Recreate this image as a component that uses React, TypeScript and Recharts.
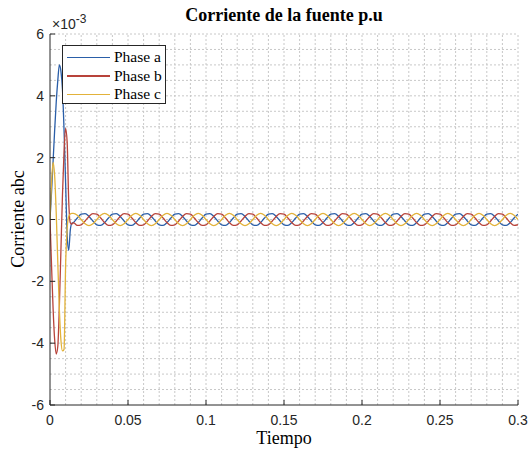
import { LineChart, Line, XAxis, YAxis, ReferenceLine } from 'recharts'

// tiempo (s); muestreo fino en el transitorio, luego 8 muestras por ciclo de 50 Hz
const TIEMPO = [
  0, 0.001, 0.002, 0.003, 0.004, 0.005, 0.006, 0.007, 0.008, 0.009, 0.01, 0.011, 0.012, 0.013, 0.014,
  0.015, 0.0175, 0.02, 0.0225, 0.025, 0.0275, 0.03, 0.0325,
  0.035, 0.0375, 0.04, 0.0425, 0.045, 0.0475, 0.05, 0.0525,
  0.055, 0.0575, 0.06, 0.0625, 0.065, 0.0675, 0.07, 0.0725,
  0.075, 0.0775, 0.08, 0.0825, 0.085, 0.0875, 0.09, 0.0925,
  0.095, 0.0975, 0.1, 0.1025, 0.105, 0.1075, 0.11, 0.1125,
  0.115, 0.1175, 0.12, 0.1225, 0.125, 0.1275, 0.13, 0.1325,
  0.135, 0.1375, 0.14, 0.1425, 0.145, 0.1475, 0.15, 0.1525,
  0.155, 0.1575, 0.16, 0.1625, 0.165, 0.1675, 0.17, 0.1725,
  0.175, 0.1775, 0.18, 0.1825, 0.185, 0.1875, 0.19, 0.1925,
  0.195, 0.1975, 0.2, 0.2025, 0.205, 0.2075, 0.21, 0.2125,
  0.215, 0.2175, 0.22, 0.2225, 0.225, 0.2275, 0.23, 0.2325,
  0.235, 0.2375, 0.24, 0.2425, 0.245, 0.2475, 0.25, 0.2525,
  0.255, 0.2575, 0.26, 0.2625, 0.265, 0.2675, 0.27, 0.2725,
  0.275, 0.2775, 0.28, 0.2825, 0.285, 0.2875, 0.29, 0.2925,
  0.295, 0.2975, 0.3,
]

// corrientes en unidades de 1e-3
const PHASE_A = [
  0, 0.9, 1.9, 2.9, 3.8, 4.5, 5.0, 4.8, 4.2, 2.9, 1.2, -0.5, -1.0, -0.35, -0.12,
  -0.1, 0.05, 0.17, 0.19, 0.1, -0.05, -0.17, -0.19,
  -0.1, 0.05, 0.17, 0.19, 0.1, -0.05, -0.17, -0.19,
  -0.1, 0.05, 0.17, 0.19, 0.1, -0.05, -0.17, -0.19,
  -0.1, 0.05, 0.17, 0.19, 0.1, -0.05, -0.17, -0.19,
  -0.1, 0.05, 0.17, 0.19, 0.1, -0.05, -0.17, -0.19,
  -0.1, 0.05, 0.17, 0.19, 0.1, -0.05, -0.17, -0.19,
  -0.1, 0.05, 0.17, 0.19, 0.1, -0.05, -0.17, -0.19,
  -0.1, 0.05, 0.17, 0.19, 0.1, -0.05, -0.17, -0.19,
  -0.1, 0.05, 0.17, 0.19, 0.1, -0.05, -0.17, -0.19,
  -0.1, 0.05, 0.17, 0.19, 0.1, -0.05, -0.17, -0.19,
  -0.1, 0.05, 0.17, 0.19, 0.1, -0.05, -0.17, -0.19,
  -0.1, 0.05, 0.17, 0.19, 0.1, -0.05, -0.17, -0.19,
  -0.1, 0.05, 0.17, 0.19, 0.1, -0.05, -0.17, -0.19,
  -0.1, 0.05, 0.17, 0.19, 0.1, -0.05, -0.17, -0.19,
  -0.1, 0.05, 0.17,
]

const PHASE_B = [
  0, -1.5, -2.9, -3.9, -4.35, -4.1, -2.8, -1.0, 0.8, 2.2, 2.95, 2.5, 0.6, -0.1, -0.15,
  -0.1, -0.19, -0.17, -0.05, 0.1, 0.19, 0.17, 0.05,
  -0.1, -0.19, -0.17, -0.05, 0.1, 0.19, 0.17, 0.05,
  -0.1, -0.19, -0.17, -0.05, 0.1, 0.19, 0.17, 0.05,
  -0.1, -0.19, -0.17, -0.05, 0.1, 0.19, 0.17, 0.05,
  -0.1, -0.19, -0.17, -0.05, 0.1, 0.19, 0.17, 0.05,
  -0.1, -0.19, -0.17, -0.05, 0.1, 0.19, 0.17, 0.05,
  -0.1, -0.19, -0.17, -0.05, 0.1, 0.19, 0.17, 0.05,
  -0.1, -0.19, -0.17, -0.05, 0.1, 0.19, 0.17, 0.05,
  -0.1, -0.19, -0.17, -0.05, 0.1, 0.19, 0.17, 0.05,
  -0.1, -0.19, -0.17, -0.05, 0.1, 0.19, 0.17, 0.05,
  -0.1, -0.19, -0.17, -0.05, 0.1, 0.19, 0.17, 0.05,
  -0.1, -0.19, -0.17, -0.05, 0.1, 0.19, 0.17, 0.05,
  -0.1, -0.19, -0.17, -0.05, 0.1, 0.19, 0.17, 0.05,
  -0.1, -0.19, -0.17, -0.05, 0.1, 0.19, 0.17, 0.05,
  -0.1, -0.19, -0.17,
]

const PHASE_C = [
  0, 1.2, 1.85, 1.4, 0.2, -1.4, -2.9, -3.9, -4.25, -4.2, -1.5, -0.3, 0.1, 0.18, 0.2,
  0.2, 0.14, 0, -0.14, -0.2, -0.14, 0, 0.14,
  0.2, 0.14, 0, -0.14, -0.2, -0.14, 0, 0.14,
  0.2, 0.14, 0, -0.14, -0.2, -0.14, 0, 0.14,
  0.2, 0.14, 0, -0.14, -0.2, -0.14, 0, 0.14,
  0.2, 0.14, 0, -0.14, -0.2, -0.14, 0, 0.14,
  0.2, 0.14, 0, -0.14, -0.2, -0.14, 0, 0.14,
  0.2, 0.14, 0, -0.14, -0.2, -0.14, 0, 0.14,
  0.2, 0.14, 0, -0.14, -0.2, -0.14, 0, 0.14,
  0.2, 0.14, 0, -0.14, -0.2, -0.14, 0, 0.14,
  0.2, 0.14, 0, -0.14, -0.2, -0.14, 0, 0.14,
  0.2, 0.14, 0, -0.14, -0.2, -0.14, 0, 0.14,
  0.2, 0.14, 0, -0.14, -0.2, -0.14, 0, 0.14,
  0.2, 0.14, 0, -0.14, -0.2, -0.14, 0, 0.14,
  0.2, 0.14, 0, -0.14, -0.2, -0.14, 0, 0.14,
  0.2, 0.14, 0,
]

const X_TICKS = [0, 0.05, 0.1, 0.15, 0.2, 0.25, 0.3]
const Y_TICKS = [-6, -4, -2, 0, 2, 4, 6]

const SERIES = [
  { key: 'a', name: 'Phase a', color: '#2a5ea8' },
  { key: 'b', name: 'Phase b', color: '#b8433a' },
  { key: 'c', name: 'Phase c', color: '#e2b23a' },
]

// rejilla menor tipo MATLAB
const X_GRID = Array.from({ length: 30 }, (_, i) => (i + 1) / 100)
const Y_GRID = Array.from({ length: 24 }, (_, i) => -5.5 + i * 0.5)

const AXIS = '#262626'
const SANS = '"Liberation Sans", Arial, sans-serif'
const SERIF = '"Liberation Serif", "Times New Roman", serif'

const data = TIEMPO.map((t, i) => ({ t, a: PHASE_A[i], b: PHASE_B[i], c: PHASE_C[i] }))

const XTick = ({ x, y, payload }: any) => (
  <g>
    <line x1={x} x2={x} y1={y} y2={y - 5} stroke={AXIS} />
    <text x={x} y={y + 20} textAnchor="middle" fontSize={14} fontFamily={SANS} fill={AXIS}>
      {payload.value}
    </text>
  </g>
)

const YTick = ({ x, y, payload }: any) => (
  <g>
    <line x1={x + 6} x2={x + 11} y1={y} y2={y} stroke={AXIS} />
    <text x={x} y={y + 5} textAnchor="end" fontSize={14} fontFamily={SANS} fill={AXIS}>
      {payload.value}
    </text>
  </g>
)

export default function App() {
  return (
    <div style={{ position: 'absolute', left: 0, top: 0, width: 530, height: 450, background: '#fff' }}>
      <LineChart width={530} height={450} data={data} margin={{ top: 34, right: 12, bottom: 0, left: 0 }}>
        {X_GRID.map(v => (
          <ReferenceLine key={'x' + v} x={v} stroke="#c8c8c8" strokeDasharray="2 2" />
        ))}
        {Y_GRID.map(v => (
          <ReferenceLine key={'y' + v} y={v} stroke="#c8c8c8" strokeDasharray="2 2" />
        ))}
        <XAxis
          dataKey="t"
          type="number"
          domain={[0, 0.3]}
          ticks={X_TICKS}
          height={45}
          stroke={AXIS}
          tickLine={false}
          tickSize={0}
          tickMargin={0}
          tick={<XTick />}
          allowDataOverflow
        />
        <YAxis
          type="number"
          domain={[-6, 6]}
          ticks={Y_TICKS}
          width={50}
          stroke={AXIS}
          tickLine={false}
          tickSize={0}
          tickMargin={6}
          tick={<YTick />}
          allowDataOverflow
        />
        {SERIES.map(s => (
          <Line
            key={s.key}
            dataKey={s.key}
            name={s.name}
            type="monotone"
            stroke={s.color}
            strokeWidth={1.3}
            dot={false}
            isAnimationActive={false}
          />
        ))}
      </LineChart>

      <div style={{ position: 'absolute', left: 0, width: 568, top: 5, textAlign: 'center', fontFamily: SERIF, fontWeight: 'bold', fontSize: 18, color: '#000' }}>
        Corriente de la fuente p.u
      </div>
      <div style={{ position: 'absolute', left: 52, top: 12, fontFamily: SANS, fontSize: 14, color: AXIS }}>
        ×10<sup style={{ fontSize: 12 }}>-3</sup>
      </div>
      <div style={{ position: 'absolute', left: 0, width: 568, top: 428, textAlign: 'center', fontFamily: SERIF, fontSize: 18, color: '#000' }}>
        Tiempo
      </div>
      <div
        style={{
          position: 'absolute', left: 18, top: 219, width: 200, marginLeft: -100, textAlign: 'center',
          transform: 'translateY(-50%) rotate(-90deg)', fontFamily: SERIF, fontSize: 18, color: '#000', lineHeight: '20px',
        }}
      >
        Corriente abc
      </div>

      <div
        style={{
          position: 'absolute', left: 62, top: 45, width: 104, height: 59, border: '1px solid #262626',
          background: '#fff', fontFamily: SERIF, fontSize: 15.5, color: '#000', boxSizing: 'border-box', paddingTop: 2,
        }}
      >
        {SERIES.map(s => (
          <div key={s.key} style={{ display: 'flex', alignItems: 'center', height: 18.5 }}>
            <div style={{ width: 43, height: 1.5, background: s.color, marginLeft: 4, marginRight: 4 }} />
            <span>{s.name}</span>
          </div>
        ))}
      </div>
    </div>
  )
}
